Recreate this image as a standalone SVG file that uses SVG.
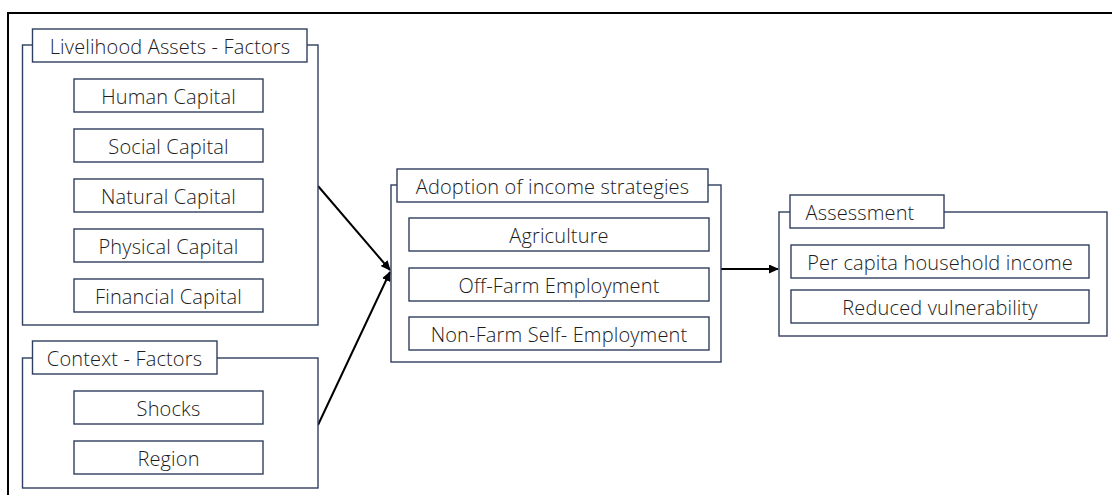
<svg xmlns="http://www.w3.org/2000/svg" width="1112" height="495" viewBox="0 0 1112 495">
  <style>
    .frame { fill: none; stroke: #000; stroke-width: 2; }
    .group { fill: #fff; stroke: #2f3f5f; stroke-width: 1.4; }
    .item { fill: #fff; stroke: #2f3f5f; stroke-width: 1.4; }
    .label { font-family: "Open Sans", "Liberation Sans", sans-serif; font-weight: 300; font-size: 20px; letter-spacing: 0.15px; fill: #1c1c1c; text-anchor: middle; dominant-baseline: central; }
    .link { fill: none; stroke: #000; stroke-width: 2; }
  </style>
  <defs>
    <marker id="arrow" viewBox="0 0 10 10" refX="9" refY="5" markerWidth="5" markerHeight="4.5" orient="auto" markerUnits="strokeWidth" preserveAspectRatio="none">
      <path d="M0,0 L10,5 L0,10 z" fill="#000"/>
    </marker>
  </defs>

  <rect width="1112" height="495" fill="#fff"/>
  <!-- outer border -->
  <rect class="frame" x="8" y="13" width="1112" height="495"/>

  <!-- connectors -->
  <g id="connectors">
    <line class="link" x1="318" y1="186" x2="390" y2="270" marker-end="url(#arrow)"/>
    <line class="link" x1="318" y1="425" x2="390" y2="272" marker-end="url(#arrow)"/>
    <line class="link" x1="721" y1="269" x2="778" y2="269" marker-end="url(#arrow)"/>
  </g>

  <!-- livelihood assets -->
  <g id="livelihood-assets">
    <rect class="group" x="22.5" y="45" width="295.5" height="280"/>
    <rect class="group" x="32.5" y="29" width="274.5" height="33"/>
    <text class="label" x="170" y="46">Livelihood Assets - Factors</text>
    <g id="human-capital">
      <rect class="item" x="74" y="79" width="189" height="33"/>
      <text class="label" x="168.5" y="96">Human Capital</text>
    </g>
    <g id="social-capital">
      <rect class="item" x="74" y="129" width="189" height="33"/>
      <text class="label" x="168.5" y="146">Social Capital</text>
    </g>
    <g id="natural-capital">
      <rect class="item" x="74" y="179" width="189" height="33"/>
      <text class="label" x="168.5" y="196">Natural Capital</text>
    </g>
    <g id="physical-capital">
      <rect class="item" x="74" y="229" width="189" height="33"/>
      <text class="label" x="168.5" y="246">Physical Capital</text>
    </g>
    <g id="financial-capital">
      <rect class="item" x="74" y="279" width="189" height="33"/>
      <text class="label" x="168.5" y="296">Financial Capital</text>
    </g>
  </g>

  <!-- context -->
  <g id="context">
    <rect class="group" x="22.5" y="358" width="295.5" height="130"/>
    <rect class="group" x="32.5" y="341" width="184.5" height="33"/>
    <text class="label" x="124.5" y="358">Context - Factors</text>
    <g id="shocks">
      <rect class="item" x="74" y="391" width="189" height="33"/>
      <text class="label" x="168.5" y="408">Shocks</text>
    </g>
    <g id="region">
      <rect class="item" x="74" y="441" width="189" height="33"/>
      <text class="label" x="168.5" y="458">Region</text>
    </g>
  </g>

  <!-- income strategies -->
  <g id="income-strategies">
    <rect class="group" x="391" y="185" width="330" height="177"/>
    <rect class="group" x="397" y="169" width="311" height="33"/>
    <text class="label" x="552.5" y="186">Adoption of income strategies</text>
    <g id="agriculture">
      <rect class="item" x="409" y="218" width="300" height="33"/>
      <text class="label" x="559" y="235">Agriculture</text>
    </g>
    <g id="off-farm">
      <rect class="item" x="409" y="268" width="300" height="33"/>
      <text class="label" x="559" y="285">Off-Farm Employment</text>
    </g>
    <g id="non-farm">
      <rect class="item" x="409" y="317" width="300" height="33"/>
      <text class="label" x="559" y="334">Non-Farm Self- Employment</text>
    </g>
  </g>

  <!-- assessment -->
  <g id="assessment">
    <rect class="group" x="779" y="212" width="328" height="124"/>
    <rect class="group" x="790" y="195" width="154" height="33"/>
    <text class="label" x="860" y="212">Assessment</text>
    <g id="household-income">
      <rect class="item" x="791" y="245" width="298" height="33"/>
      <text class="label" x="940" y="262">Per capita household income</text>
    </g>
    <g id="vulnerability">
      <rect class="item" x="791" y="290" width="298" height="33"/>
      <text class="label" x="940" y="307">Reduced vulnerability</text>
    </g>
  </g>
</svg>
